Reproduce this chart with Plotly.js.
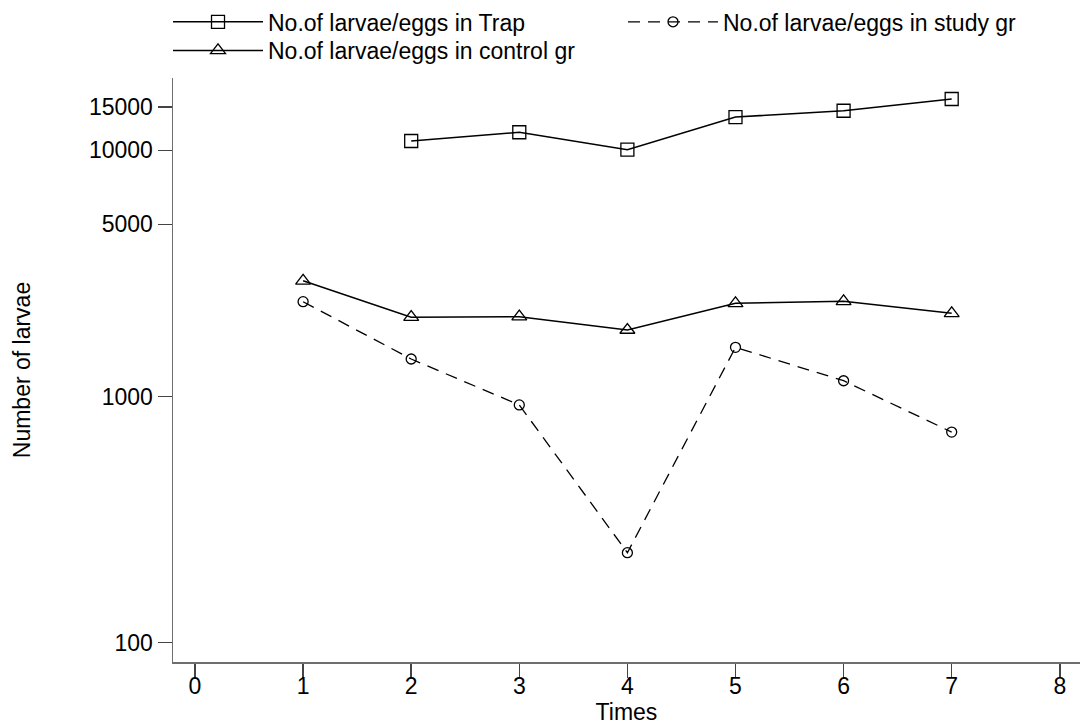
<!DOCTYPE html>
<html>
<head>
<meta charset="utf-8">
<script src="https://cdn.plot.ly/plotly-3.0.1.min.js"></script>
<style>html,body{margin:0;padding:0;background:#fff;}#chart{width:1080px;height:725px;}</style>
</head>
<body>
<div id="chart"></div>
<script>
// Data
const timesTrap = [2, 3, 4, 5, 6, 7];
const larvaeTrap = [10910, 11840, 10060, 13650, 14480, 16160];

const timesControl = [1, 2, 3, 4, 5, 6, 7];
const larvaeControl = [2950, 2100, 2110, 1863, 2390, 2436, 2177];

const timesStudy = [1, 2, 3, 4, 5, 6, 7];
const larvaeStudy = [2427, 1420, 924, 232, 1584, 1159, 717];

const yTickVals = [100, 1000, 5000, 10000, 15000];
const yTickText = ['100', '1000', '5000', '10000', '15000'];
const xTickVals = [0, 1, 2, 3, 4, 5, 6, 7, 8];

const FONT = 'Liberation Sans, Arial, Helvetica, sans-serif';

const traces = [
  {
    x: timesTrap, y: larvaeTrap, name: 'No.of larvae/eggs in Trap',
    type: 'scatter', mode: 'lines+markers', legend: 'legend',
    line: {color: '#000', width: 1.5},
    marker: {symbol: 'square-open', size: 13, color: '#000', line: {color: '#000', width: 1.3}}
  },
  {
    x: timesStudy, y: larvaeStudy, name: 'No.of larvae/eggs in study gr',
    type: 'scatter', mode: 'lines+markers', legend: 'legend',
    line: {color: '#000', width: 1.3, dash: '12px,8px'},
    marker: {symbol: 'circle-open', size: 10, color: '#000', line: {color: '#000', width: 1.3}}
  },
  {
    x: timesControl, y: larvaeControl, name: 'No.of larvae/eggs in control gr',
    type: 'scatter', mode: 'lines+markers', legend: 'legend2',
    line: {color: '#000', width: 1.5},
    marker: {symbol: 'triangle-up-open', size: 13, color: '#000', line: {color: '#000', width: 1.3}}
  }
];

const legendCommon = {
  orientation: 'h', xanchor: 'left', yanchor: 'top',
  font: {family: FONT, size: 23, color: '#000'},
  bgcolor: 'rgba(0,0,0,0)', borderwidth: 0,
  itemwidth: 90, entrywidth: 350, entrywidthmode: 'pixels',
  tracegroupgap: 0, itemclick: false, itemdoubleclick: false
};

const layout = {
  width: 1080, height: 725,
  margin: {l: 173, r: 0, t: 78, b: 63, pad: 0},
  paper_bgcolor: '#fff', plot_bgcolor: '#fff',
  font: {family: FONT, size: 23, color: '#000'},
  showlegend: true,
  legend: Object.assign({}, legendCommon, {x: -0.0055, y: 1.133}),
  legend2: Object.assign({}, legendCommon, {x: -0.0055, y: 1.084}),
  xaxis: {
    range: [-0.2035, 8.187],
    tickmode: 'array', tickvals: xTickVals,
    showline: true, linecolor: '#6e6e6e', linewidth: 1.5,
    ticks: 'outside', ticklen: 14, tickwidth: 1.5, tickcolor: '#444',
    ticklabelstandoff: -11,
    showgrid: false, zeroline: false,
    tickfont: {family: FONT, size: 23, color: '#000'},
    title: {text: 'Times', font: {family: FONT, size: 23, color: '#000'}, standoff: 8}
  },
  yaxis: {
    type: 'log', range: [1.9216, 4.2937],
    tickmode: 'array', tickvals: yTickVals, ticktext: yTickText,
    showline: true, linecolor: '#6e6e6e', linewidth: 1.5,
    ticks: 'outside', ticklen: 14, tickwidth: 1.5, tickcolor: '#444',
    showgrid: false, zeroline: false,
    tickfont: {family: FONT, size: 23, color: '#000'},
    title: {text: 'Number of larvae', font: {family: FONT, size: 23, color: '#000'}, standoff: 52}
  }
};

Plotly.newPlot('chart', traces, layout, {displayModeBar: false, staticPlot: true});
</script>
</body>
</html>
